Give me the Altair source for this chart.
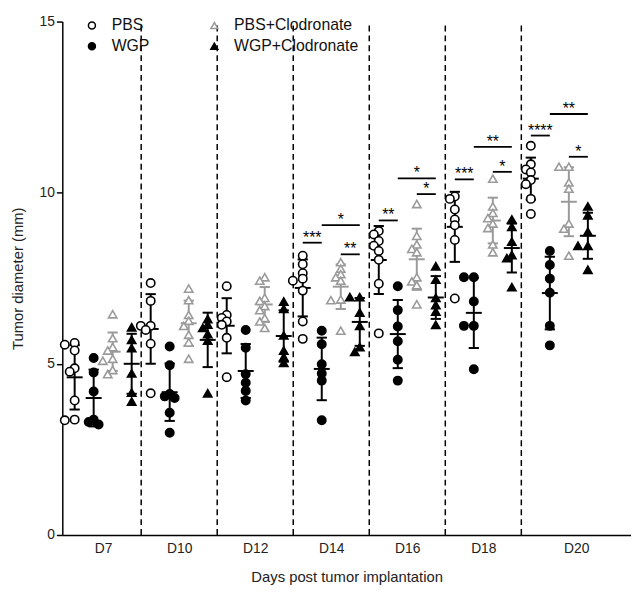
import altair as alt
import pandas as pd
import numpy as np

days = ["D7", "D10", "D12", "D14", "D16", "D18", "D20"]
groups = ["PBS", "WGP", "PBS+Clodronate", "WGP+Clodronate"]

pbs = [
    [5.61, 5.56, 5.39, 4.87, 4.77, 3.93, 3.37, 3.35],
    [7.36, 6.84, 6.11, 6.11, 5.99, 5.59, 4.14],
    [7.27, 6.43, 6.34, 6.24, 6.14, 5.76, 4.61],
    [8.16, 7.91, 7.65, 7.49, 7.43, 7.14, 6.24, 5.73],
    [8.88, 8.78, 8.59, 8.45, 8.30, 8.04, 7.34, 5.89],
    [9.89, 9.82, 9.51, 9.22, 9.05, 8.62, 6.91],
    [11.37, 10.83, 10.68, 10.59, 10.37, 10.25, 9.82, 9.38],
]
wgp = [
    [5.17, 4.75, 4.19, 3.37, 3.30, 3.23],
    [5.51, 4.96, 4.12, 4.05, 4.00, 3.57, 2.99],
    [5.99, 5.47, 4.70, 4.45, 4.21, 3.93],
    [5.97, 5.57, 4.99, 4.72, 4.51, 3.35],
    [7.27, 6.57, 6.09, 5.66, 5.12, 4.51],
    [7.53, 7.53, 6.82, 6.11, 6.11, 4.84],
    [8.30, 7.89, 7.49, 7.08, 6.11, 5.54],
]
pbs_clod = [
    [6.45, 5.75, 5.49, 5.39, 5.15, 5.09, 4.82, 4.70],
    [7.20, 6.86, 6.43, 6.26, 6.11, 5.85, 5.63, 5.15],
    [7.53, 7.43, 6.93, 6.84, 6.69, 6.57, 6.34, 6.24, 6.05],
    [7.97, 7.78, 7.62, 7.53, 7.43, 6.88, 6.86, 5.97],
    [9.67, 8.74, 8.49, 8.36, 8.26, 7.53, 7.41, 7.30, 6.74],
    [10.41, 9.60, 9.41, 9.26, 9.10, 8.97, 8.49, 8.26],
    [10.76, 10.76, 10.30, 10.12, 9.10, 8.95, 8.16],
]
wgp_clod = [
    [6.07, 5.70, 5.46, 4.72, 4.16, 3.90],
    [6.31, 6.15, 6.05, 5.87, 5.68, 4.14],
    [6.82, 6.61, 5.83, 5.39, 5.20, 5.03],
    [6.95, 6.95, 6.50, 6.11, 5.49, 5.35],
    [7.85, 7.46, 6.93, 6.72, 6.53, 6.14],
    [9.22, 9.00, 8.57, 8.18, 8.09, 7.24],
    [9.60, 9.34, 8.86, 8.45, 8.45, 7.75],
]

# significance brackets: day index, from group, to group, level, label
sig_day = [3, 3, 3, 4, 4, 4, 5, 5, 5, 6, 6, 6]
sig_from = [0, 1, 2, 0, 1, 2, 0, 1, 2, 0, 1, 2]
sig_to = [1, 3, 3, 1, 3, 3, 1, 3, 3, 1, 3, 3]
sig_level = [8.54, 9.05, 8.20, 9.19, 10.42, 9.96, 10.39, 11.34, 10.61, 11.67, 12.30, 11.05]
sig_label = ["***", "*", "**", "**", "*", "*", "***", "**", "*", "****", "**", "*"]

GRAY = "#9a9a9a"

W, H = 576, 520
XMIN, XMAX = -0.15, 29.77
YMAX = 15
PX_X = W / (XMAX - XMIN)
PX_Y = H / YMAX

series = [pbs, wgp, pbs_clod, wgp_clod]
rows = []
STEP = 5.0
for g, day in enumerate(days):
    for k, name in enumerate(groups):
        center = 4 * g + k + 0.5
        placed = []
        for v in sorted(series[k][g], reverse=True):
            chosen = 0.0
            for m in [0, -1, 1, -2, 2, -3, 3]:
                ox = m * STEP
                if all(np.hypot(ox - px, (v - pv) * PX_Y) >= 5.5 for px, pv in placed):
                    chosen = ox
                    break
            placed.append((chosen, v))
            rows.append(dict(day=day, g=g, k=k, group=name, center=center,
                             xpos=center + chosen / PX_X, value=v))
df = pd.DataFrame(rows)

sig_df = pd.DataFrame(dict(
    x1=[4 * d + f + 0.5 for d, f in zip(sig_day, sig_from)],
    x2=[4 * d + t + 0.5 for d, t in zip(sig_day, sig_to)],
    level=sig_level, label=sig_label))
sig_df["xm"] = (sig_df["x1"] + sig_df["x2"]) / 2

bounds = pd.DataFrame(dict(b=[4 * i for i in range(1, len(days))]))
bounds["y0"] = 0
bounds["y1"] = YMAX

label_pos = [4 * i + 2 for i in range(len(days) - 1)] + [(4 * (len(days) - 1) + XMAX) / 2]
expr = f"'{days[-1]}'"
for i in reversed(range(len(days) - 1)):
    expr = f"datum.value < {4 * (i + 1)} ? '{days[i]}' : " + expr
label_expr = expr

xscale = alt.Scale(domain=[XMIN, XMAX], nice=False, zero=False)
yscale = alt.Scale(domain=[0, YMAX], nice=False)

xaxis = alt.Axis(values=label_pos, labelExpr=label_expr, ticks=False, grid=False,
                 title="Days post tumor implantation", labelPadding=7, titlePadding=14)
yaxis = alt.Axis(values=[0, 5, 10, 15], grid=False, title="Tumor diameter (mm)",
                 tickSize=6, titlePadding=14)

leg = alt.Legend(title=None, orient="none", legendX=22, legendY=-4, columns=2,
                 columnPadding=57, rowPadding=5, labelFontSize=16, labelColor="#111",
                 symbolSize=50, symbolStrokeWidth=1.5, labelOffset=12, padding=0)

base = alt.Chart(df)

points = base.mark_point(filled=True, size=72, strokeWidth=1.6, opacity=1).encode(
    x=alt.X("xpos:Q", scale=xscale, axis=xaxis),
    y=alt.Y("value:Q", scale=yscale, axis=yaxis),
    shape=alt.Shape("group:N", scale=alt.Scale(domain=groups,
                    range=["circle", "circle", "triangle-up", "triangle-up"]), legend=leg),
    fill=alt.Fill("group:N", scale=alt.Scale(domain=groups,
                  range=["white", "black", "white", "black"]), legend=leg),
    stroke=alt.Stroke("group:N", scale=alt.Scale(domain=groups,
                      range=["black", "black", GRAY, "black"]), legend=leg),
)

stats = base.transform_aggregate(
    mean="mean(value)", sd="stdev(value)", groupby=["g", "k", "group", "center"]
).transform_calculate(
    lo="datum.mean - datum.sd", hi="datum.mean + datum.sd",
    ml="datum.center - 0.42", mr="datum.center + 0.42",
    cl="datum.center - 0.27", cr="datum.center + 0.27",
)
col = alt.condition("datum.group == 'PBS+Clodronate'", alt.value(GRAY), alt.value("black"))

vbar = stats.mark_rule(strokeWidth=2).encode(
    x=alt.X("center:Q", scale=xscale), y=alt.Y("lo:Q", scale=yscale), y2="hi:Q", color=col)
meanline = stats.mark_rule(strokeWidth=2).encode(
    x=alt.X("ml:Q", scale=xscale), x2="mr:Q", y=alt.Y("mean:Q", scale=yscale), color=col)
caps = stats.transform_fold(["lo", "hi"], as_=["which", "yy"]).mark_rule(strokeWidth=2).encode(
    x=alt.X("cl:Q", scale=xscale), x2="cr:Q", y=alt.Y("yy:Q", scale=yscale), color=col)

dashes = alt.Chart(bounds).mark_rule(strokeDash=[6, 4], strokeWidth=1.5, color="black").encode(
    x=alt.X("b:Q", scale=xscale), y=alt.Y("y0:Q", scale=yscale), y2="y1:Q")

sig_lines = alt.Chart(sig_df).mark_rule(strokeWidth=1.8, color="black").encode(
    x=alt.X("x1:Q", scale=xscale), x2="x2:Q", y=alt.Y("level:Q", scale=yscale))
sig_text = alt.Chart(sig_df).mark_text(fontSize=16, baseline="alphabetic", dy=0, color="black").encode(
    x=alt.X("xm:Q", scale=xscale), y=alt.Y("level:Q", scale=yscale), text="label:N")

chart = alt.layer(dashes, vbar, meanline, caps, points, sig_lines, sig_text).properties(
    width=W, height=H,
    autosize=alt.AutoSizeParams(type="none"),
    padding={"left": 55, "top": 10, "right": 0, "bottom": 55},
).configure(font="Liberation Sans").configure_view(stroke=None).configure_axis(
    labelFontSize=14, titleFontSize=15, labelColor="#222", titleColor="#222",
    domainColor="black", tickColor="black", domainWidth=1.5, tickWidth=1.5,
    labelFontWeight="normal", titleFontWeight="normal"
)

chart.save("out.html", embed_options={"renderer": "svg", "actions": False})
